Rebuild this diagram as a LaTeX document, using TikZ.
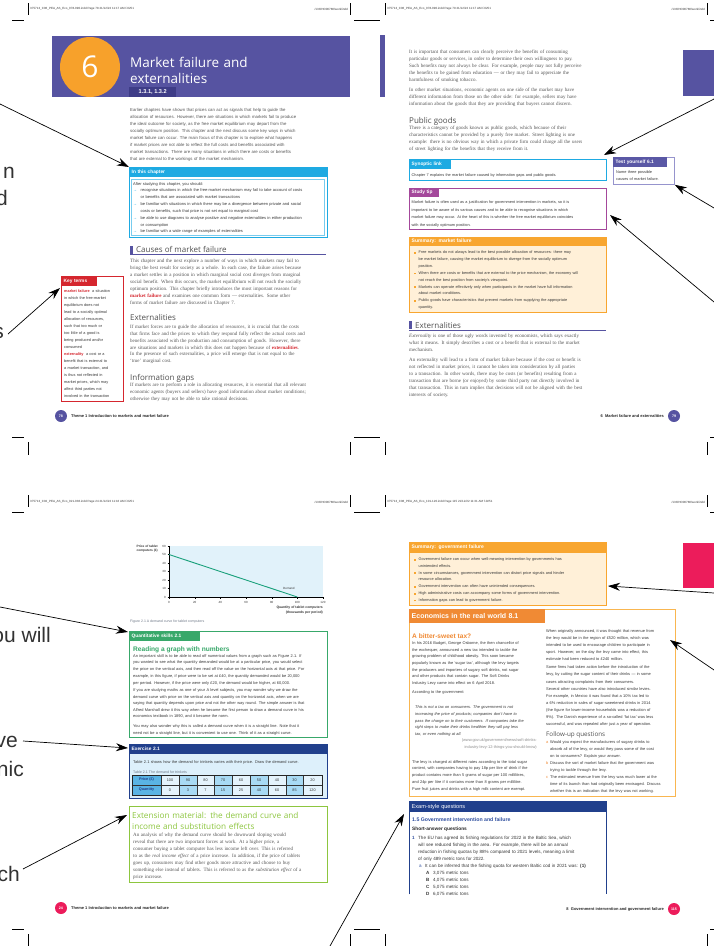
\documentclass[tikz,border=0pt]{standalone}
\usepackage{fontspec}
\setmainfont{Liberation Serif}
\setsansfont{Liberation Sans}
\newfontfamily\hd{Open Sans}
\usetikzlibrary{arrows.meta}
\newcommand\fs[2]{\fontsize{#1}{#2}\selectfont}
\newcommand\jl[1]{\makebox[\hsize][s]{#1}}
\definecolor{pur}{RGB}{86,83,161}
\definecolor{purd}{RGB}{62,60,135}
\definecolor{orc}{RGB}{247,161,43}
\definecolor{cya}{RGB}{30,170,226}
\definecolor{kred}{RGB}{213,38,46}
\definecolor{mag}{RGB}{164,72,155}
\definecolor{tpur}{RGB}{90,88,165}
\definecolor{tpurl}{RGB}{150,148,205}
\definecolor{sor}{RGB}{248,166,48}
\definecolor{cream}{RGB}{255,240,216}
\definecolor{txt}{RGB}{55,55,55}
\definecolor{bod}{RGB}{85,85,85}
\definecolor{hgr}{RGB}{80,80,80}
\definecolor{qgr}{RGB}{56,168,106}
\definecolor{exb}{RGB}{33,64,140}
\definecolor{exl}{RGB}{221,240,251}
\definecolor{tbm}{RGB}{90,180,228}
\definecolor{tbl}{RGB}{168,218,244}
\definecolor{tbv}{RGB}{228,243,252}
\definecolor{lgr}{RGB}{141,198,63}
\definecolor{pnk}{RGB}{236,28,91}
\definecolor{eor}{RGB}{240,138,52}
\definecolor{eorl}{RGB}{249,182,80}
\definecolor{gblue}{RGB}{225,242,250}
\definecolor{dgreen}{RGB}{24,160,122}
\definecolor{bl15}{RGB}{47,79,159}
\definecolor{frag}{RGB}{50,50,50}
\definecolor{capg}{RGB}{110,120,135}
\newcommand\kt[1]{\textcolor{kred}{\bfseries #1}}
\newcommand\ib{\makebox[7.5pt][l]{\textcolor{cya}{→}}}
\newcommand\sqb{\makebox[4.5pt][l]{\textcolor{sor}{\rule{1.7pt}{1.7pt}}}}
\newcommand\ind[1]{\hspace*{#1}}
\tikzset{
 every node/.style={inner sep=0pt},
 bp/.style={anchor=base west, align=left, text width=#1, font=\rmfamily\fs{5.0}{7}, text=bod},
 sp/.style={anchor=base west, align=left, text width=#1, font=\sffamily\fs{3.9}{6.9}, text=txt},
 hb/.style={fill=#1, anchor=north west, inner xsep=2.5pt, inner ysep=0pt, minimum height=10pt, align=left, text=white, font=\sffamily\bfseries\fs{4.8}{5}},
 hdg/.style={anchor=base west, font=\hd\fs{8}{9}, text=hgr},
 arr/.style={-{Stealth[length=12pt,width=8pt]}, line width=0.7pt, black},
 crop/.style={line width=0.6pt, black},
 slug/.style={font=\sffamily\fs{3}{3}, text=txt},
 foot/.style={font=\sffamily\bfseries\fs{4}{4}, text=black!85},
 fcirc/.style={circle, fill=#1, minimum size=12pt, text=white, font=\sffamily\bfseries\fs{3.6}{3.6}},
 frg/.style={anchor=base east, font=\sffamily\fs{21}{21}, text=frag},
 tick/.style={font=\sffamily\fs{3}{3}, text=txt},
}
\begin{document}
\begin{tikzpicture}[x=1pt,y=-1pt]
\path[use as bounding box, fill=white] (0,0) rectangle (714,946);

% ================= crop marks =================
\foreach \ya/\yb/\yc in {3/15/20, 495/507/512}{
 \draw[crop] (28,\ya) -- (28,\yb); \draw[crop] (350,\ya) -- (350,\yb);
 \draw[crop] (385,\ya) -- (385,\yb); \draw[crop] (707,\ya) -- (707,\yb);
 \draw[crop] (12,\yc) -- (24,\yc); \draw[crop] (354,\yc) -- (380,\yc); \draw[crop] (710,\yc) -- (714,\yc);
}
\foreach \ya/\yb/\yc in {442/455/437, 934/946/929}{
 \draw[crop] (28,\ya) -- (28,\yb); \draw[crop] (350,\ya) -- (350,\yb);
 \draw[crop] (385,\ya) -- (385,\yb); \draw[crop] (707,\ya) -- (707,\yb);
 \draw[crop] (12,\yc) -- (24,\yc); \draw[crop] (354,\yc) -- (380,\yc); \draw[crop] (710,\yc) -- (714,\yc);
}
\node[slug, anchor=west] (sl1) at (30,9) {375713\_C06\_PEA\_AS\_Eco\_078-090.indd  Page 78  21/12/22  11:17 AM f-0251};
\node[slug, anchor=east] (sr1) at (348,9) {/133/HO00780/work/indd};
\node[slug, anchor=west] (sl2) at (387,9) {375713\_C06\_PEA\_AS\_Eco\_078-090.indd  Page 79  21/12/22  11:17 AM f-0251};
\node[slug, anchor=east] (sr2) at (705,9) {/133/HO00780/work/indd};
\node[slug, anchor=west] (sl3) at (30,502) {375713\_C02\_PEA\_AS\_Eco\_021-036.indd  Page 24  21/12/22  11:16 AM f-0251};
\node[slug, anchor=east] (sr3) at (348,502) {/133/HO00780/work/indd};
\node[slug, anchor=west] (sl4) at (387,502) {375713\_C08\_PEA\_AS\_Eco\_101-120.indd  Page 115  21/12/22  11:31 AM f-0251};
\node[slug, anchor=east] (sr4) at (705,502) {/133/HO00780/work/indd};

% ================= page 78 =================
\fill[pur] (52,36) rectangle (350,97);
\node[circle, fill=orc, minimum size=60pt, text=white, font=\hd\fs{30}{30}] (six) at (90,67) {6};
\node[anchor=base west, text width=215pt, align=left, font=\hd\fs{13.5}{16}, text=white] (title) at (130,67) {Market failure and\\externalities};
\node[fill=purd, minimum width=47pt, minimum height=10pt, anchor=north west, text=white, font=\sffamily\bfseries\fs{5.6}{6}] (code) at (129,87) {1.3.1, 1.3.2};

\node[sp=196pt, font=\sffamily\fs{4.3}{6.95}, text=bod] (intro) at (130,111.5) {%
\jl{Earlier chapters have shown that prices can act as signals that help to guide the}\\
\jl{allocation of resources. However, there are situations in which markets fail to produce}\\
\jl{the ideal outcome for society, as the free market equilibrium may depart from the}\\
\jl{socially optimum position. This chapter and the next discuss some key ways in which}\\
\jl{market failure can occur. The main focus of this chapter is to explore what happens}\\
\jl{if market prices are not able to reflect the full costs and benefits associated with}\\
\jl{market transactions. There are many situations in which there are costs or benefits}\\
that are external to the workings of the market mechanism.};

\node[draw=cya, line width=1.1pt, anchor=north west, minimum width=198pt, minimum height=70pt] (inchap) at (129,167) {};
\node[hb=cya, text width=193pt] (inchaph) at (129,167) {In this chapter};
\draw[cya!60, line width=0.4pt] (131.5,179) rectangle (324.5,235);
\node[sp=188pt, font=\sffamily\fs{4.0}{6.85}] (inchapt) at (133,185) {%
After studying this chapter, you should:\\
\ib recognise situations in which the free-market mechanism may fail to take account of costs\\
\ind{7.5pt}or benefits that are associated with market transactions\\
\ib be familiar with situations in which there may be a divergence between private and social\\
\ind{7.5pt}costs or benefits, such that price is not set equal to marginal cost\\
\ib be able to use diagrams to analyse positive and negative externalities in either production\\
\ind{7.5pt}or consumption\\
\ib be familiar with a wide range of examples of externalities};

\fill[pur] (130,246) rectangle (133,254);
\draw[pur, line width=0.6pt] (130,254.5) -- (326,254.5);
\node[hdg] (hcmf) at (136,252.5) {Causes of market failure};
\node[bp=196pt] (pcmf) at (130,262.5) {%
\jl{This chapter and the next explore a number of ways in which markets may fail to}\\
\jl{bring the best result for society as a whole. In each case, the failure arises because}\\
\jl{a market settles in a position in which marginal social cost diverges from marginal}\\
\jl{social benefit. When this occurs, the market equilibrium will not reach the socially}\\
\jl{optimum position. This chapter briefly introduces the most important reasons for}\\
\jl{\kt{market failure} and examines one common form — externalities. Some other}\\
forms of market failure are discussed in Chapter 7.};

\node[hdg] (hext1) at (130,320) {Externalities};
\node[bp=196pt, font=\rmfamily\fs{5.0}{6.85}] (pext1) at (130,328.5) {%
\jl{If market forces are to guide the allocation of resources, it is crucial that the costs}\\
\jl{that firms face and the prices to which they respond fully reflect the actual costs and}\\
\jl{benefits associated with the production and consumption of goods. However, there}\\
\jl{are situations and markets in which this does not happen because of \kt{externalities}.}\\
\jl{In the presence of such externalities, a price will emerge that is not equal to the}\\
‘true’ marginal cost.};

\node[hdg] (hinf) at (130,380) {Information gaps};
\node[bp=196pt] (pinf) at (130,386.5) {%
\jl{If markets are to perform a role in allocating resources, it is essential that all relevant}\\
\jl{economic agents (buyers and sellers) have good information about market conditions;}\\
otherwise they may not be able to take rational decisions.};

\node[draw=kred, line width=0.8pt, anchor=north west, minimum width=62pt, minimum height=125pt] (keyt) at (61,276) {};
\node[hb=kred, text width=31pt] (keyth) at (61,276) {Key terms};
\node[sp=58pt, font=\sffamily\fs{3.85}{7}] (keytt) at (64,292.5) {%
\kt{market failure}\ \ a situation\\
in which the free-market\\
equilibrium does not\\
lead to a socially optimal\\
allocation of resources,\\
such that too much or\\
too little of a good is\\
being produced and/or\\
consumed\\
\kt{externality}\ \ a cost or a\\
benefit that is external to\\
a market transaction, and\\
is thus not reflected in\\
market prices, which may\\
affect third parties not\\
involved in the transaction};

\node[fcirc=pur] (f78) at (61,416) {78};
\node[foot, anchor=west] (ft78) at (71,416) {Theme 1 Introduction to markets and market failure};

% ================= page 79 =================
\fill[pur] (380,35) rectangle (385,97);
\fill[pur] (683,50) rectangle (714,96);
\node[bp=196pt] (pig1) at (409,53.5) {%
\jl{It is important that consumers can clearly perceive the benefits of consuming}\\
\jl{particular goods or services, in order to determine their own willingness to pay.}\\
\jl{Such benefits may not always be clear. For example, people may not fully perceive}\\
\jl{the benefits to be gained from education — or they may fail to appreciate the}\\
harmfulness of smoking tobacco.};
\node[bp=196pt] (pig2) at (409,91.5) {%
\jl{In other market situations, economic agents on one side of the market may have}\\
\jl{different information from those on the other side: for example, sellers may have}\\
information about the goods that they are providing that buyers cannot discern.};
\node[hdg] (hpub) at (409,123) {Public goods};
\node[bp=196pt] (ppub) at (409,129.5) {%
\jl{There is a category of goods known as public goods, which because of their}\\
\jl{characteristics cannot be provided by a purely free market. Street lighting is one}\\
\jl{example: there is no obvious way in which a private firm could charge all the users}\\
of street lighting for the benefits that they receive from it.};

\node[draw=cya, line width=0.8pt, anchor=north west, minimum width=197pt, minimum height=21pt] (synl) at (409,159) {};
\node[hb=cya, text width=37pt] (synlh) at (409,159) {Synoptic link};
\node[sp=192pt, font=\sffamily\fs{3.85}{7}] (synlt) at (411.5,176.5) {Chapter 7 explains the market failure caused by information gaps and public goods.};

\node[draw=mag, line width=0.8pt, anchor=north west, minimum width=197pt, minimum height=41pt] (stip) at (409,188) {};
\node[hb=mag, text width=25pt, minimum height=9pt] (stiph) at (409,188) {Study tip};
\node[sp=192pt, font=\sffamily\fs{3.85}{7.7}] (stipt) at (411.5,203.5) {%
Market failure is often used as a justification for government intervention in markets, so it is\\
important to be aware of its various causes and to be able to recognise situations in which\\
market failure may occur. At the heart of this is whether the free market equilibrium coincides\\
with the socially optimum position.};

\node[draw=tpurl, line width=0.8pt, anchor=north west, minimum width=61pt, minimum height=27pt] (testy) at (613,157) {};
\node[hb=tpur, text width=49pt] (testyh) at (613,157) {Test yourself 6.1};
\node[sp=56pt, font=\sffamily\fs{3.85}{7}] (testyt) at (616,173.5) {Name three possible\\causes of market failure.};

\node[draw=sor, fill=cream, line width=0.8pt, anchor=north west, minimum width=197pt, minimum height=75pt] (summf) at (409,237) {};
\node[hb=sor, text width=192pt, minimum height=9pt, font=\sffamily\bfseries\fs{5}{5}] (summfh) at (409,237) {Summary: market failure};
\node[sp=190pt, font=\sffamily\fs{3.85}{6.9}] (summft) at (414,253.5) {%
\sqb Free markets do not always lead to the best possible allocation of resources: there may\\
\ind{4.5pt}be market failure, causing the market equilibrium to diverge from the socially optimum\\
\ind{4.5pt}position.\\
\sqb When there are costs or benefits that are external to the price mechanism, the economy will\\
\ind{4.5pt}not reach the best position from society’s viewpoint.\\
\sqb Markets can operate effectively only when participants in the market have full information\\
\ind{4.5pt}about market conditions.\\
\sqb Public goods have characteristics that prevent markets from supplying the appropriate\\
\ind{4.5pt}quantity.};

\fill[pur] (409,321) rectangle (412,329);
\draw[pur, line width=0.6pt] (409,330.5) -- (606,330.5);
\node[hdg] (hext2) at (415,328.5) {Externalities};
\node[bp=196pt] (pext2a) at (409,337.5) {%
\jl{\textit{Externality} is one of those ugly words invented by economists, which says exactly}\\
\jl{what it means. It simply describes a cost or a benefit that is external to the market}\\
mechanism.};
\node[bp=196pt] (pext2b) at (409,361.5) {%
\jl{An externality will lead to a form of market failure because if the cost or benefit is}\\
\jl{not reflected in market prices, it cannot be taken into consideration by all parties}\\
\jl{to a transaction. In other words, there may be costs (or benefits) resulting from a}\\
\jl{transaction that are borne (or enjoyed) by some third party not directly involved in}\\
\jl{that transaction. This in turn implies that decisions will not be aligned with the best}\\
interests of society.};

\node[fcirc=pur] (f79) at (674,416) {79};
\node[foot, anchor=east] (ft79) at (664,416) {6\ \ Market failure and externalities};

% ================= page 24 =================
\fill[gblue] (169,546) rectangle (323,597);
\draw[line width=0.5pt] (169,546) -- (169,597) -- (323,597);
\foreach \v/\yy in {60/546,50/554.5,40/563,30/571.5,20/580,10/588.5,0/597}{
 \draw[line width=0.4pt] (167.5,\yy) -- (169,\yy);
 \node[tick, anchor=east] (yt\v) at (166,\yy) {\v};
}
\foreach \v/\xx in {0/169,20/194.7,40/220.3,60/246,80/271.7,100/297.3,120/323}{
 \draw[line width=0.4pt] (\xx,597) -- (\xx,598.5);
 \node[tick] (xt\v) at (\xx,602) {\v};
}
\coordinate (dstart) at (169,554.5);
\coordinate (dend) at (297.3,597);
\draw[dgreen, line width=0.9pt] (dstart) -- (dend);
\node[tick, anchor=west] (dlab) at (283,588) {Demand};
\node[anchor=north east, align=right, font=\sffamily\bfseries\fs{3.2}{4.3}, text=txt] (ylab) at (158,544.5) {Price of tablet\\computers (£)};
\node[anchor=north east, align=right, font=\sffamily\bfseries\fs{3.4}{5.4}, text=txt] (xlab) at (323,605.5) {Quantity of tablet computers\\(thousands per period)};
\node[anchor=base west, font=\sffamily\fs{3.5}{4}, text=capg] (fcap) at (130,622) {Figure 2.1 A demand curve for tablet computers};

\node[draw=qgr, line width=0.9pt, anchor=north west, minimum width=198pt, minimum height=106pt] (qskill) at (129,631) {};
\node[hb=qgr, text width=66pt] (qskillh) at (129,631) {Quantitative skills 2.1};
\node[anchor=base west, font=\sffamily\bfseries\fs{6.6}{7}, text=qgr] (qtitle) at (133,651.5) {Reading a graph with numbers};
\node[sp=192pt, font=\sffamily\fs{3.95}{6.8}] (qt1) at (133,657) {%
An important skill is to be able to read off numerical values from a graph such as Figure 2.1. If\\
you wanted to see what the quantity demanded would be at a particular price, you would select\\
the price on the vertical axis, and then read off the value on the horizontal axis at that price. For\\
example, in this figure, if price were to be set at £40, the quantity demanded would be 20,000\\
per period. However, if the price were only £20, the demand would be higher, at 60,000.};
\node[sp=192pt, font=\sffamily\fs{3.95}{6.6}] (qt2) at (133,691.5) {%
If you are studying maths as one of your A level subjects, you may wonder why we draw the\\
demand curve with price on the vertical axis and quantity on the horizontal axis, when we are\\
saying that quantity depends upon price and not the other way round. The simple answer is that\\
Alfred Marshall drew it this way when he became the first person to draw a demand curve in his\\
economics textbook in 1890, and it became the norm.};
\node[sp=192pt, font=\sffamily\fs{3.95}{6.8}] (qt3) at (133,727.5) {%
You may also wonder why this is called a demand curve when it is a straight line. Note that it\\
need not be a straight line, but it is convenient to use one. Think of it as a straight curve.};

\node[draw=exb, fill=exl, line width=0.9pt, anchor=north west, minimum width=198pt, minimum height=54pt] (exer) at (129,744) {};
\node[hb=exb, text width=193pt] (exerh) at (129,744) {Exercise 2.1};
\node[sp=192pt, font=\sffamily\fs{3.95}{6.8}] (exert) at (133,763.5) {Table 2.1 shows how the demand for trinkets varies with their price. Draw the demand curve.};
\node[anchor=base west, font=\sffamily\fs{3.6}{4}, text=capg] (tcap) at (133,773.5) {Table 2.1 The demand for trinkets};
\fill[tbm] (132,775) rectangle (161,795);
\foreach \xa/\xb/\p/\q/\c [count=\i] in {161/179/100/0/tbv,179/197/90/3/tbl,197/214/80/7/tbv,214/232/70/15/tbl,232/250/60/25/tbv,250/268/50/40/tbl,268/286/40/60/tbv,286/303/30/85/tbl,303/322/20/120/tbv}{
 \fill[\c] (\xa,775) rectangle (\xb,795);
 \node[font=\sffamily\fs{3.8}{4}, text=txt] (tp\i) at ({(\xa+\xb)/2},780) {\p};
 \node[font=\sffamily\fs{3.8}{4}, text=txt] (tq\i) at ({(\xa+\xb)/2},790) {\q};
 \draw[line width=0.45pt, black!80] (\xa,775) -- (\xa,795);
}
\draw[line width=0.45pt, black!80] (132,785) -- (322,785);
\draw[line width=0.9pt, black!85] (132,775) rectangle (322,795);
\node[font=\sffamily\bfseries\fs{3.8}{4}, text=exb] (tph) at (146.5,780) {Price (£)};
\node[font=\sffamily\bfseries\fs{3.8}{4}, text=exb] (tqh) at (146.5,790) {Quantity};

\node[draw=lgr, line width=0.9pt, anchor=north west, minimum width=198pt, minimum height=76pt] (extm) at (129,806) {};
\node[anchor=base west, align=left, text width=192pt, font=\hd\fs{8.2}{11}, text=lgr] (extmh) at (132,818.5) {Extension material: the demand curve and\\income and substitution effects};
\node[bp=190pt, font=\rmfamily\fs{5.0}{6.95}] (extmt) at (133,836.5) {%
An analysis of why the demand curve should be downward sloping would\\
reveal that there are two important forces at work. At a higher price, a\\
consumer buying a tablet computer has less income left over. This is referred\\
to as the \textit{real income effect} of a price increase. In addition, if the price of tablets\\
goes up, consumers may find other goods more attractive and choose to buy\\
something else instead of tablets. This is referred to as the \textit{substitution effect} of a\\
price increase.};

\node[fcirc=pnk] (f24) at (61,908) {24};
\node[foot, anchor=west] (ft24) at (71,908) {Theme 1 Introduction to markets and market failure};

% ================= page 115 =================
\fill[pnk] (683,543) rectangle (714,588);
\node[draw=sor, fill=cream, line width=0.8pt, anchor=north west, minimum width=197pt, minimum height=63pt] (sumgf) at (409,542) {};
\node[hb=sor, text width=192pt, minimum height=11pt, font=\sffamily\bfseries\fs{5}{5}] (sumgfh) at (409,542) {Summary: government failure};
\node[sp=190pt, font=\sffamily\fs{3.85}{6.8}] (sumgft) at (414,560.5) {%
\sqb Government failure can occur when well-meaning intervention by governments has\\
\ind{4.5pt}unintended effects.\\
\sqb In some circumstances, government intervention can distort price signals and hinder\\
\ind{4.5pt}resource allocation.\\
\sqb Government intervention can often have unintended consequences.\\
\sqb High administrative costs can accompany some forms of government intervention.\\
\sqb Information gaps can lead to government failure.};

\node[draw=eorl, line width=0.9pt, anchor=north west, minimum width=266pt, minimum height=187pt] (econ) at (409,609) {};
\node[hb=eor, text width=131pt, minimum height=14pt, font=\sffamily\bfseries\fs{7}{7}] (econh) at (409,609) {Economics in the real world 8.1};
\node[anchor=base west, font=\sffamily\bfseries\fs{6.6}{7}, text=eor] (btax) at (412,638.5) {A bitter-sweet tax?};
\node[sp=124pt, font=\sffamily\fs{3.95}{6.65}] (ecl1) at (412,644.5) {%
In his 2016 Budget, George Osborne, the then chancellor of\\
the exchequer, announced a new tax intended to tackle the\\
growing problem of childhood obesity. This soon became\\
popularly known as the ‘sugar tax’, although the levy targets\\
the producers and importers of sugary soft drinks, not sugar\\
and other products that contain sugar. The Soft Drinks\\
Industry Levy came into effect on 6 April 2018.};
\node[sp=124pt, font=\sffamily\fs{3.95}{6.65}] (ecl2) at (412,693.5) {According to the government:};
\node[sp=124pt, font=\sffamily\itshape\fs{3.95}{6.75}] (ecl3) at (415,708.5) {%
This is not a tax on consumers. The government is not\\
increasing the price of products; companies don’t have to\\
pass the charge on to their customers. If companies take the\\
right steps to make their drinks healthier they will pay less\\
tax, or even nothing at all.};
\node[anchor=base east, align=right, text width=130pt, font=\sffamily\fs{3.95}{7.2}, text=black!45] (ecsrc) at (537,741.5) {(www.gov.uk/government/news/soft-drinks-\\industry-levy-12-things-you-should-know)};
\node[sp=124pt, font=\sffamily\fs{3.95}{6.75}] (ecl4) at (412,763) {%
The levy is charged at different rates according to the total sugar\\
content, with companies having to pay 18p per litre of drink if the\\
product contains more than 5 grams of sugar per 100 millilitres,\\
and 24p per litre if it contains more than 8 grams per millilitre.\\
Pure fruit juices and drinks with a high milk content are exempt.};

\node[sp=126pt, font=\sffamily\fs{3.95}{7.05}] (ecr1) at (546,632.5) {%
When originally announced, it was thought that revenue from\\
the levy would be in the region of £520 million, which was\\
intended to be used to encourage children to participate in\\
sport. However, on the day the levy came into effect, this\\
estimate had been reduced to £240 million.};
\node[sp=126pt, font=\sffamily\fs{3.95}{7.3}] (ecr2) at (546,668.5) {%
Some firms had taken action before the introduction of the\\
levy, by cutting the sugar content of their drinks — in some\\
cases attracting complaints from their consumers.};
\node[sp=126pt, font=\sffamily\fs{3.95}{7}] (ecr3) at (546,690.5) {%
Several other countries have also introduced similar levies.\\
For example, in Mexico it was found that a 10\% tax led to\\
a 6\% reduction in sales of sugar-sweetened drinks in 2014\\
(the figure for lower-income households was a reduction of\\
9\%). The Danish experience of a so-called ‘fat tax’ was less\\
successful, and was repealed after just a year of operation.};
\node[anchor=base west, font=\hd\fs{6.3}{7}, text=hgr] (fuq) at (546,736) {Follow-up questions};
\node[sp=126pt, font=\sffamily\fs{3.95}{6.95}] (ecq) at (546,743.5) {%
\makebox[4pt][l]{\textcolor{eor}{a}}Would you expect the manufacturers of sugary drinks to\\
\ind{4pt}absorb all of the levy, or would they pass some of the cost\\
\ind{4pt}on to consumers? Explain your answer.\\
\makebox[4pt][l]{\textcolor{eor}{b}}Discuss the sort of market failure that the government was\\
\ind{4pt}trying to tackle through the levy.\\
\makebox[4pt][l]{\textcolor{eor}{c}}The estimated revenue from the levy was much lower at the\\
\ind{4pt}time of its launch than had originally been envisaged. Discuss\\
\ind{4pt}whether this is an indication that the levy was not working.};

\node[anchor=north west, minimum width=197pt, minimum height=93pt] (exam) at (409,801) {};
\draw[exb, line width=0.9pt] (exam.south west) -- (exam.north west) -- (exam.north east) -- (exam.south east);
\node[hb=exb, text width=192pt, minimum height=11pt, font=\sffamily\fs{5.6}{6}] (examh) at (409,801) {Exam-style questions};
\node[anchor=base west, font=\sffamily\bfseries\fs{5.2}{6}, text=bl15] (ex15) at (412,821) {1.5 Government intervention and failure};
\node[anchor=base west, font=\sffamily\bfseries\fs{4.8}{6}, text=black!85] (exsa) at (412,830) {Short-answer questions};
\node[sp=192pt, font=\sffamily\fs{4.55}{7}] (exq) at (412,839) {%
\makebox[6pt][l]{\textcolor{bl15}{\bfseries 1}}The EU has agreed its fishing regulations for 2022 in the Baltic Sea, which\\
\ind{6pt}will see reduced fishing in the area. For example, there will be an annual\\
\ind{6pt}reduction in fishing quotas by 88\% compared to 2021 levels, meaning a limit\\
\ind{6pt}of only 489 metric tons for 2022.\\
\ind{7pt}\makebox[6pt][l]{\textcolor{bl15}{a}}It can be inferred that the fishing quota for western Baltic cod in 2021 was: \textbf{(1)}\\
\ind{14pt}\makebox[7pt][l]{\textbf{A}}3,075 metric tons\\
\ind{14pt}\makebox[7pt][l]{\textbf{B}}4,075 metric tons\\
\ind{14pt}\makebox[7pt][l]{\textbf{C}}5,075 metric tons\\
\ind{14pt}\makebox[7pt][l]{\textbf{D}}6,075 metric tons};

\node[fcirc=pnk] (f115) at (674,909) {115};
\node[foot, anchor=east] (ft115) at (664,909) {8\ \ Government intervention and government failure};

% ================= cut-off margin text =================
\node[frg] (fr1) at (15,178) {n};
\node[frg] (fr2) at (8,205) {d};
\node[frg] (fr3) at (4,338) {s};
\node[frg] (fr4) at (51,642) {ou will};
\node[frg] (fr5) at (18,747) {ve};
\node[frg] (fr6) at (24,776) {nic};
\node[frg] (fr7) at (20,881) {ch};

% ================= arrows =================
\coordinate (a1) at (0,104);
\coordinate (a2) at (8,334);
\coordinate (a2t) at (60,288);
\coordinate (a3) at (714,99);
\coordinate (a3t) at (604,155);
\coordinate (a4) at (714,208);
\coordinate (a5) at (714,302);
\coordinate (a5t) at (610,215);
\coordinate (a6) at (0,607);
\coordinate (a6t) at (128,632);
\coordinate (a7) at (23,741);
\coordinate (a7t) at (128,748);
\coordinate (a8) at (23,869);
\coordinate (a8t) at (127,815);
\coordinate (a9) at (714,593);
\coordinate (a9t) at (608,586);
\coordinate (a10) at (714,670);
\coordinate (a10t) at (670,640);
\coordinate (a11) at (330,946);
\coordinate (a11t) at (404,814);
\draw[arr] (a1) -- (inchap.north west);
\draw[arr] (a2) -- (a2t);
\draw[arr] (a3) -- (a3t);
\draw[arr] (a4) -- (testy.south east);
\draw[arr] (a5) -- (a5t);
\draw[arr] (a6) -- (a6t);
\draw[arr] (a7) -- (a7t);
\draw[arr] (a8) -- (a8t);
\draw[arr] (a9) -- (a9t);
\draw[arr] (a10) -- (a10t);
\draw[arr] (a11) -- (a11t);
\end{tikzpicture}
\end{document}
